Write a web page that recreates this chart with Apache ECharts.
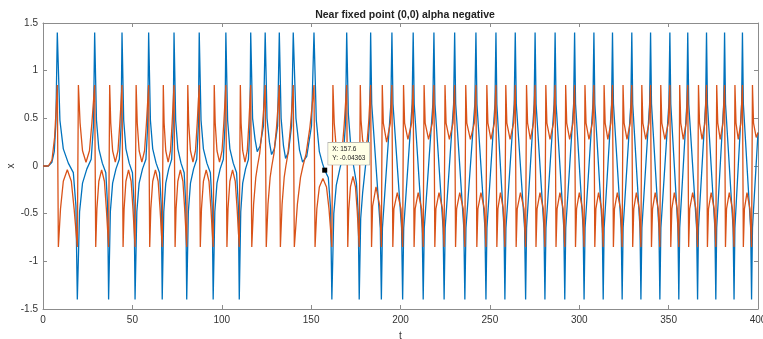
<!DOCTYPE html>
<html>
<head>
<meta charset="utf-8">
<script src="https://cdn.jsdelivr.net/npm/echarts@6/dist/echarts.min.js"></script>
<style>
  html, body { margin: 0; padding: 0; background: #fff; }
  #main { width: 763px; height: 339px; }
</style>
</head>
<body>
<div id="main"></div>
<script>
// values: [t, x]
var blueStart = [[0,0],[3,0],[5,0.04],[6.3,0.15],[7.2,0.45]];
var blueEarly = [
  [8.0,1.4],[9.46,0.48],[11.36,0.18],[14.16,0.03],[16.96,-0.07],[18.42,-0.42],
  [19.2,-1.4],[20.46,-0.48],[22.11,-0.18],[24.54,-0.03],[26.96,0.07],[28.22,0.42],
  [28.9,1.4],[29.91,0.48],[31.24,0.18],[33.19,0.03],[35.14,-0.07],[36.15,-0.42],
  [36.7,-1.4],[37.68,-0.48],[38.95,-0.18],[40.83,-0.03],[42.7,0.07],[43.68,0.42],
  [44.2,1.4],[45.15,0.48],[46.39,0.18],[48.22,0.03],[50.04,-0.07],[50.99,-0.42],
  [51.5,-1.4],[52.49,-0.48],[53.78,-0.18],[55.68,-0.03],[57.58,0.07],[58.57,0.42],
  [59.1,1.4],[60.09,0.48],[61.38,0.18],[63.28,0.03],[65.18,-0.07],[66.17,-0.42],
  [66.7,-1.4],[67.56,-0.48],[68.68,-0.18],[70.33,-0.03],[71.98,0.07],[72.84,0.42],
  [73.3,1.4],[74.22,0.48],[75.43,0.18],[77.21,0.03],[78.98,-0.07],[79.9,-0.42],
  [80.4,-1.4],[81.31,-0.48],[82.5,-0.18],[84.25,-0.03],[86.0,0.07],[86.91,0.42],
  [87.4,1.4],[88.41,0.48],[89.74,0.18],[91.69,0.03],[93.64,-0.07],[94.65,-0.42],
  [95.2,-1.4],[96.12,-0.48],[97.33,-0.18],[99.11,-0.03],[100.88,0.07],[101.8,0.42],
  [102.3,1.4],[103.28,0.48],[104.55,0.18],[106.43,0.03],[108.3,-0.07],[109.28,-0.42],
  [109.8,-1.4],[110.63,-0.48],[111.72,-0.18],[113.32,-0.03],[114.92,0.07],[115.75,0.42]
];
var blueMiddle = [
  [116.2,1.4],[117.25,0.5],[118.63,0.28],[119.85,0.15],[121.47,0.21],[123.33,0.42],
  [124.3,1.4],[125.33,0.5],[126.67,0.25],[127.86,0.12],[129.44,0.18],[131.25,0.42],
  [132.2,1.4],[133.21,0.5],[134.54,0.21],[135.71,0.08],[137.27,0.14],[139.06,0.42],
  [140.0,1.4],[141.51,0.5],[143.48,0.17],[145.22,0.04],[147.54,0.1],[150.21,0.42],
  [151.6,1.4],[152.9,0.48],[154.6,0.15],[156.3,0.03],[157.6,-0.04363],[159.6,-0.12],[160.9,-0.45],
  [161.6,-1.4],[162.68,-0.5],[164.09,-0.2],[166.17,-0.02],[168.07,0.12],[169.24,0.45],
  [169.9,1.4],[170.81,0.55],[172.0,0.25],[173.75,0.0],[175.36,-0.18],[176.34,-0.5],
  [176.9,-1.4],[177.73,-0.55],[178.82,-0.28],[180.42,0.0],[181.89,0.22],[182.79,0.52],
  [183.3,1.4],[183.9,0.65],[188.7,-0.65]
];
var blueLate = [
  [189.3,-1.4],[189.89,-0.65],[194.61,0.65],
  [195.2,1.4],[195.8,0.65],[200.6,-0.65],
  [201.2,-1.4],[201.79,-0.65],[206.51,0.65],
  [207.1,1.4],[207.66,0.65],[212.14,-0.65],
  [212.7,-1.4],[213.3,-0.65],[218.1,0.65],
  [218.7,1.4],[219.27,0.65],[223.83,-0.65],
  [224.4,-1.4],[224.99,-0.65],[229.71,0.65],
  [230.3,1.4],[230.87,0.65],[235.43,-0.65],
  [236.0,-1.4],[236.62,-0.65],[241.58,0.65],
  [242.2,1.4],[242.76,0.65],[247.24,-0.65],
  [247.8,-1.4],[248.36,-0.65],[252.84,0.65],
  [253.4,1.4],[253.9,0.65],[257.9,-0.65],
  [258.4,-1.4],[258.98,-0.65],[263.62,0.65],
  [264.2,1.4],[264.78,0.65],[269.42,-0.65],
  [270.0,-1.4],[270.53,-0.65],[274.77,0.65],
  [275.3,1.4],[275.85,0.65],[280.25,-0.65],
  [280.8,-1.4],[281.37,-0.65],[285.93,0.65],
  [286.5,1.4],[287.04,0.65],[291.36,-0.65],
  [291.9,-1.4],[292.45,-0.65],[296.85,0.65],
  [297.4,1.4],[297.93,0.65],[302.17,-0.65],
  [302.7,-1.4],[303.25,-0.65],[307.65,0.65],
  [308.2,1.4],[308.72,0.65],[312.88,-0.65],
  [313.4,-1.4],[313.92,-0.65],[318.08,0.65],
  [318.6,1.4],[319.14,0.65],[323.46,-0.65],
  [324.0,-1.4],[324.54,-0.65],[328.86,0.65],
  [329.4,1.4],[329.91,0.65],[333.99,-0.65],
  [334.5,-1.4],[335.04,-0.65],[339.36,0.65],
  [339.9,1.4],[340.42,0.65],[344.58,-0.65],
  [345.1,-1.4],[345.66,-0.65],[350.14,0.65],
  [350.7,1.4],[351.2,0.65],[355.2,-0.65],
  [355.7,-1.4],[356.2,-0.65],[360.2,0.65],
  [360.7,1.4],[361.25,0.65],[365.65,-0.65],
  [366.2,-1.4],[366.7,-0.65],[370.7,0.65],
  [371.2,1.4],[371.72,0.65],[375.88,-0.65],
  [376.4,-1.4],[376.89,-0.65],[380.81,0.65],
  [381.3,1.4],[381.83,0.65],[386.07,-0.65],
  [386.6,-1.4],[387.07,-0.65],[390.83,0.65],
  [391.3,1.4],[391.81,0.65],[395.89,-0.65],
  [396.4,-1.4],[396.91,-0.65],[400,0.35]
];

var orangeStart = [[0,0],[3,0],[5,0.06],[6.5,0.3],[7.5,0.65]];
var orangeEarly = [
  [8.0,0.85],[8.6,-0.85],[9.79,-0.45],[11.36,-0.16],[13.6,-0.04],[15.84,-0.16],[17.41,-0.45],
  [19.2,-0.85],[19.8,0.85],[20.75,0.45],[22.11,0.16],[24.05,0.04],[25.99,0.16],[27.35,0.45],
  [28.9,0.85],[29.5,-0.85],[30.15,-0.45],[31.24,-0.16],[32.8,-0.04],[34.36,-0.16],[35.45,-0.45],
  [36.7,-0.85],[37.3,0.85],[37.9,0.45],[38.95,0.16],[40.45,0.04],[41.95,0.16],[43.0,0.45],
  [44.2,0.85],[44.8,-0.85],[45.37,-0.45],[46.39,-0.16],[47.85,-0.04],[49.31,-0.16],[50.33,-0.45],
  [51.5,-0.85],[52.1,0.85],[52.72,0.45],[53.78,0.16],[55.3,0.04],[56.82,0.16],[57.88,0.45],
  [59.1,0.85],[59.7,-0.85],[60.32,-0.45],[61.38,-0.16],[62.9,-0.04],[64.42,-0.16],[65.48,-0.45],
  [66.7,-0.85],[67.3,0.85],[67.76,0.45],[68.68,0.16],[70.0,0.04],[71.32,0.16],[72.24,0.45],
  [73.3,0.85],[73.9,-0.85],[74.44,-0.45],[75.43,-0.16],[76.85,-0.04],[78.27,-0.16],[79.26,-0.45],
  [80.4,-0.85],[81.0,0.85],[81.52,0.45],[82.5,0.16],[83.9,0.04],[85.3,0.16],[86.28,0.45],
  [87.4,0.85],[88.0,-0.85],[88.65,-0.45],[89.74,-0.16],[91.3,-0.04],[92.86,-0.16],[93.95,-0.45],
  [95.2,-0.85],[95.8,0.85],[96.34,0.45],[97.33,0.16],[98.75,0.04],[100.17,0.16],[101.16,0.45],
  [102.3,0.85],[102.9,-0.85],[103.5,-0.45],[104.55,-0.16],[106.05,-0.04],[107.55,-0.16],[108.6,-0.45],
  [109.8,-0.85],[110.4,0.85],[110.82,0.45],[111.72,0.16],[113.0,0.04],[114.28,0.16],[115.18,0.45]
];
var orangeMiddle = [
  [116.2,0.85],[116.8,-0.85],[117.82,-0.4],[119.04,-0.12],[120.01,0.0],[121.22,0.13],[122.68,0.4],[123.65,0.65],
  [124.3,0.85],[124.9,-0.85],[125.88,-0.4],[127.07,-0.12],[128.01,0.0],[129.2,0.13],[130.62,0.4],[131.57,0.65],
  [132.2,0.85],[132.8,-0.85],[133.76,-0.4],[134.93,-0.12],[135.87,0.0],[137.04,0.13],[138.44,0.4],[139.38,0.65],
  [140.0,0.85],[140.6,-0.85],[142.32,-0.4],[144.06,-0.12],[145.45,0.0],[147.19,0.13],[149.28,0.4],[150.67,0.65],
  [151.6,0.85],[152.2,-0.85],[153.2,-0.45],[154.6,-0.22],[156.6,-0.13],[158.6,-0.22],[160.0,-0.45],
  [161.6,-0.85],[162.2,0.85],[162.93,0.45],[164.09,0.18],[165.75,0.08],[167.41,0.18],[168.57,0.45],
  [169.9,0.85],[170.5,-0.85],[171.02,-0.47],[172.0,-0.22],[173.4,-0.11],[174.8,-0.22],[175.78,-0.47],
  [176.9,-0.85],[177.5,0.85],[177.92,0.48],[178.82,0.27],[180.1,0.18],[181.38,0.27],[182.28,0.48],
  [183.3,0.85],[183.8,-0.85],[184.4,-0.42],[186.3,-0.22],[188.4,-0.42]
];
var orangeLate = [
  [189.3,-0.85],[189.8,0.85],[190.4,0.45],[192.25,0.25],[194.3,0.45],
  [195.2,0.85],[195.7,-0.85],[196.3,-0.45],[198.2,-0.28],[200.3,-0.45],
  [201.2,-0.85],[201.7,0.85],[202.3,0.45],[204.15,0.28],[206.2,0.45],
  [207.1,0.85],[207.6,-0.85],[208.2,-0.45],[209.9,-0.28],[211.8,-0.45],
  [212.7,-0.85],[213.2,0.85],[213.8,0.45],[215.7,0.28],[217.8,0.45],
  [218.7,0.85],[219.2,-0.85],[219.8,-0.45],[221.55,-0.28],[223.5,-0.45],
  [224.4,-0.85],[224.9,0.85],[225.5,0.45],[227.35,0.28],[229.4,0.45],
  [230.3,0.85],[230.8,-0.85],[231.4,-0.45],[233.15,-0.28],[235.1,-0.45],
  [236.0,-0.85],[236.5,0.85],[237.1,0.45],[239.1,0.28],[241.3,0.45],
  [242.2,0.85],[242.7,-0.85],[243.3,-0.45],[245.0,-0.28],[246.9,-0.45],
  [247.8,-0.85],[248.3,0.85],[248.9,0.45],[250.6,0.28],[252.5,0.45],
  [253.4,0.85],[253.9,-0.85],[254.5,-0.45],[255.9,-0.28],[257.5,-0.45],
  [258.4,-0.85],[258.9,0.85],[259.5,0.45],[261.3,0.28],[263.3,0.45],
  [264.2,0.85],[264.7,-0.85],[265.3,-0.45],[267.1,-0.28],[269.1,-0.45],
  [270.0,-0.85],[270.5,0.85],[271.1,0.45],[272.65,0.28],[274.4,0.45],
  [275.3,0.85],[275.8,-0.85],[276.4,-0.45],[278.05,-0.28],[279.9,-0.45],
  [280.8,-0.85],[281.3,0.85],[281.9,0.45],[283.65,0.28],[285.6,0.45],
  [286.5,0.85],[287.0,-0.85],[287.6,-0.45],[289.2,-0.28],[291.0,-0.45],
  [291.9,-0.85],[292.4,0.85],[293.0,0.45],[294.65,0.28],[296.5,0.45],
  [297.4,0.85],[297.9,-0.85],[298.5,-0.45],[300.05,-0.28],[301.8,-0.45],
  [302.7,-0.85],[303.2,0.85],[303.8,0.45],[305.45,0.28],[307.3,0.45],
  [308.2,0.85],[308.7,-0.85],[309.3,-0.45],[310.8,-0.28],[312.5,-0.45],
  [313.4,-0.85],[313.9,0.85],[314.5,0.45],[316.0,0.28],[317.7,0.45],
  [318.6,0.85],[319.1,-0.85],[319.7,-0.45],[321.3,-0.28],[323.1,-0.45],
  [324.0,-0.85],[324.5,0.85],[325.1,0.45],[326.7,0.28],[328.5,0.45],
  [329.4,0.85],[329.9,-0.85],[330.5,-0.45],[331.95,-0.28],[333.6,-0.45],
  [334.5,-0.85],[335.0,0.85],[335.6,0.45],[337.2,0.28],[339.0,0.45],
  [339.9,0.85],[340.4,-0.85],[341.0,-0.45],[342.5,-0.28],[344.2,-0.45],
  [345.1,-0.85],[345.6,0.85],[346.2,0.45],[347.9,0.28],[349.8,0.45],
  [350.7,0.85],[351.2,-0.85],[351.8,-0.45],[353.2,-0.28],[354.8,-0.45],
  [355.7,-0.85],[356.2,0.85],[356.8,0.45],[358.2,0.28],[359.8,0.45],
  [360.7,0.85],[361.2,-0.85],[361.8,-0.45],[363.45,-0.28],[365.3,-0.45],
  [366.2,-0.85],[366.7,0.85],[367.3,0.45],[368.7,0.28],[370.3,0.45],
  [371.2,0.85],[371.7,-0.85],[372.3,-0.45],[373.8,-0.28],[375.5,-0.45],
  [376.4,-0.85],[376.9,0.85],[377.5,0.45],[378.85,0.28],[380.4,0.45],
  [381.3,0.85],[381.8,-0.85],[382.4,-0.45],[383.95,-0.28],[385.7,-0.45],
  [386.6,-0.85],[387.1,0.85],[387.7,0.45],[388.95,0.28],[390.4,0.45],
  [391.3,0.85],[391.8,-0.85],[392.4,-0.45],[393.85,-0.28],[395.5,-0.45],
  [396.4,-0.85],[396.9,0.85],[397.5,0.45],[399.0,0.3],[400,0.35]
];

// data tip
var tipT = 157.6;
var tipX = -0.04363;

var font = "'Liberation Sans', Arial, Helvetica, sans-serif";
var axisColor = "#8c8c8c";

function frameAxis(pos, extra) {
  var ax = {
    type: "value",
    position: pos,
    axisLine: { show: true, onZero: false, lineStyle: { color: axisColor, width: 1 } },
    axisTick: { show: true, inside: true, length: 4, lineStyle: { color: axisColor } },
    axisLabel: { show: false },
    splitLine: { show: false }
  };
  for (var k in extra) ax[k] = extra[k];
  return ax;
}

var xRange = { min: 0, max: 400, interval: 50 };
var yRange = { min: -1.5, max: 1.5, interval: 0.5 };

var option = {
  animation: false,
  backgroundColor: "#fff",
  title: {
    text: "Near fixed point (0,0) alpha negative",
    left: 400,
    top: 5,
    textAlign: "center",
    textStyle: { fontFamily: font, fontSize: 10.5, fontWeight: "bold", color: "#222" }
  },
  grid: { left: 43, right: 5, top: 23, bottom: 30, containLabel: false, outerBoundsMode: "none" },
  xAxis: [
    frameAxis("bottom", {
      min: xRange.min, max: xRange.max, interval: xRange.interval,
      name: "t", nameLocation: "middle", nameGap: 22, nameMoveOverlap: false,
      nameTextStyle: { fontFamily: font, fontSize: 10, color: "#333" },
      axisLabel: { show: true, color: "#333", fontFamily: font, fontSize: 10, margin: 6 }
    }),
    frameAxis("top", { min: xRange.min, max: xRange.max, interval: xRange.interval })
  ],
  yAxis: [
    frameAxis("left", {
      min: yRange.min, max: yRange.max, interval: yRange.interval,
      name: "x", nameLocation: "middle", nameGap: 27, nameRotate: 90, nameMoveOverlap: false,
      nameTextStyle: { fontFamily: font, fontSize: 10, color: "#333" },
      axisLabel: { show: true, color: "#333", fontFamily: font, fontSize: 10, margin: 5 }
    }),
    frameAxis("right", { min: yRange.min, max: yRange.max, interval: yRange.interval })
  ],
  series: [
    {
      name: "x1",
      type: "line",
      showSymbol: false,
      data: blueStart.concat(blueEarly, blueMiddle, blueLate),
      lineStyle: { color: "#0072BD", width: 1.3 },
      itemStyle: { color: "#0072BD" },
      markPoint: {
        symbol: "rect",
        symbolSize: 5,
        itemStyle: { color: "#000" },
        data: [{ coord: [tipT, tipX] }],
        label: {
          show: true,
          formatter: "X: " + tipT + "\nY: " + tipX,
          position: [6, -25],
          fontFamily: font,
          fontSize: 6.5,
          lineHeight: 9,
          color: "#222",
          backgroundColor: "#ffffe6",
          borderColor: "#a0a0a0",
          borderWidth: 0.6,
          padding: [2, 4, 2, 4]
        }
      },
      z: 2
    },
    {
      name: "x2",
      type: "line",
      showSymbol: false,
      data: orangeStart.concat(orangeEarly, orangeMiddle, orangeLate),
      lineStyle: { color: "#D95319", width: 1.3 },
      itemStyle: { color: "#D95319" },
      z: 3
    }
  ]
};

var myChart = echarts.init(document.getElementById("main"));
myChart.setOption(option);
</script>
</body>
</html>
